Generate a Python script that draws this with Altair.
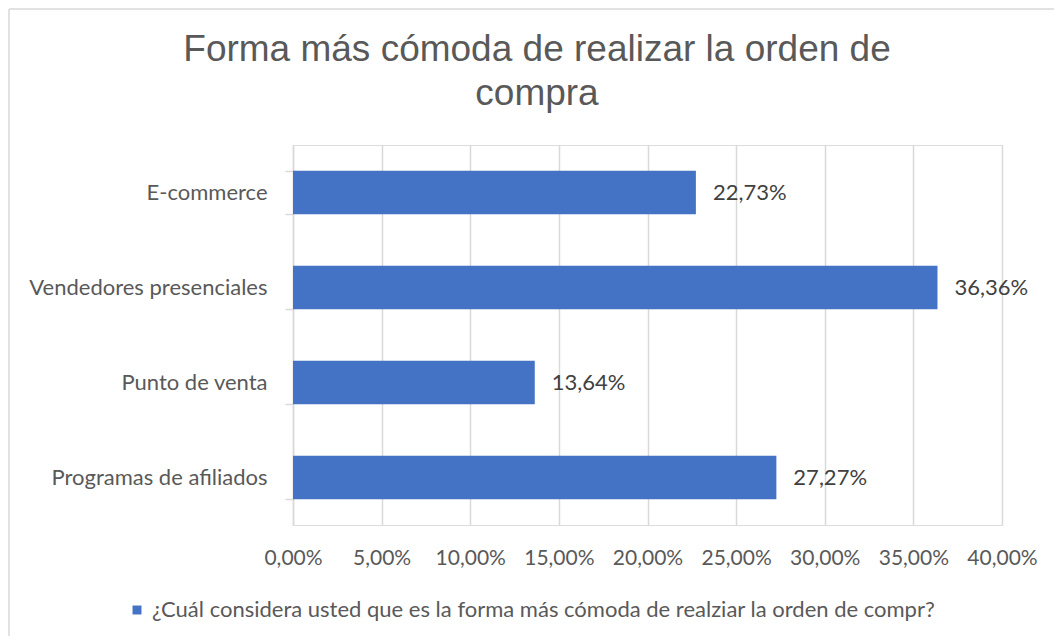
import altair as alt
import pandas as pd

categories = ["E-commerce", "Vendedores presenciales", "Punto de venta", "Programas de afiliados"]
values = [0.2273, 0.3636, 0.1364, 0.2727]
series_name = "¿Cuál considera usted que es la forma más cómoda de realziar la orden de compr?"
title_lines = ["Forma más cómoda de realizar la orden de", "compra"]
tick_values = [0, 0.05, 0.10, 0.15, 0.20, 0.25, 0.30, 0.35, 0.40]

df = pd.DataFrame({"cat": categories, "val": values, "serie": [series_name] * len(categories)})

FONT = "Lato"
TFONT = "Liberation Sans"
TXT = "#595959"
BLUE = "#4472C4"

W, H = 709, 380
PL, PT = 285, 137
OX, OY = PL + 8, PT + 8  # plot origin on the page

ysc = alt.Scale(domain=categories, paddingInner=0.54, paddingOuter=0.27)
xsc = alt.Scale(domain=[0, 0.40], nice=False)

one = pd.DataFrame({"a": [0]})

border_top = alt.Chart(one).mark_rule(color="#d9d9d9", strokeWidth=1.5, clip=False).encode(
    x=alt.value(9 - OX), x2=alt.value(W + 200), y=alt.value(9 - OY)
)
border_left = alt.Chart(one).mark_rule(color="#d9d9d9", strokeWidth=1.5, clip=False).encode(
    x=alt.value(9 - OX), y=alt.value(9 - OY), y2=alt.value(H + 200)
)

title1 = alt.Chart(one).mark_text(
    text=title_lines[0], font=TFONT, fontSize=37, color=TXT,
    align="center", baseline="middle", clip=False
).encode(x=alt.value(537 - OX), y=alt.value(50 - OY))

title2 = alt.Chart(one).mark_text(
    text=title_lines[1], font=TFONT, fontSize=37, color=TXT,
    align="center", baseline="middle", clip=False
).encode(x=alt.value(537 - OX), y=alt.value(94 - OY))

bars = alt.Chart(df).mark_bar(color=BLUE).encode(
    y=alt.Y("cat:N", scale=ysc, sort=categories, title=None,
            axis=alt.Axis(tickBand="extent", domain=True, domainColor="#d9d9d9",
                          domainWidth=1.5, ticks=True, tickColor="#d9d9d9", tickWidth=1.5,
                          tickSize=8, grid=False, labelFont=FONT, labelFontSize=22,
                          labelColor=TXT, labelPadding=18, labelLimit=400)),
    x=alt.X("val:Q", scale=xsc, title=None,
            axis=alt.Axis(values=tick_values, grid=True, gridColor="#d9d9d9", gridWidth=1.5,
                          domain=False, ticks=False, labelFont=FONT, labelFontSize=21,
                          labelColor=TXT, labelPadding=22, labelOverlap=False,
                          labelFlush=False,
                          labelExpr="replace(format(datum.value, '.2%'), '.', ',')")),
    color=alt.Color("serie:N", scale=alt.Scale(range=[BLUE]),
                    legend=alt.Legend(orient="none", legendX=126 - OX, legendY=H + 74,
                                      title=None, symbolType="square", symbolSize=80,
                                      labelFont=FONT, labelFontSize=22, labelColor=TXT,
                                      labelLimit=1000, symbolStrokeWidth=0)),
)

labels = alt.Chart(df).mark_text(align="left", baseline="middle", dx=17,
                                 font=FONT, fontSize=22, color="#404040").encode(
    y=alt.Y("cat:N", scale=ysc, sort=categories),
    x=alt.X("val:Q", scale=xsc),
    text=alt.Text("lbl:N"),
).transform_calculate(lbl="replace(format(datum.val, '.2%'), '.', ',')")

chart = alt.layer(border_top, border_left, title1, title2, bars, labels).properties(
    width=W, height=H,
    padding={"left": PL, "top": PT, "right": 1062 - 16 - PL - W, "bottom": 644 - 16 - PT - H},
    autosize=alt.AutoSizeParams(type="none"),
).configure_view(stroke=None).configure(background="white")

chart.save("out.html", embed_options={"renderer": "svg", "actions": False})
